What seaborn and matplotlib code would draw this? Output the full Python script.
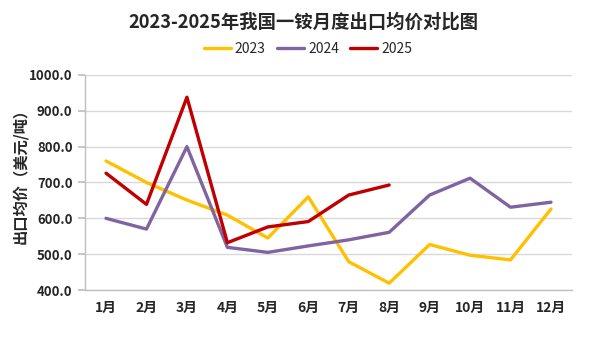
import matplotlib
matplotlib.use("Agg")
import matplotlib.pyplot as plt
import seaborn as sns
import pandas as pd
import numpy as np
from matplotlib.lines import Line2D

months = ["1月", "2月", "3月", "4月", "5月", "6月", "7月", "8月", "9月", "10月", "11月", "12月"]
v2023 = [760, 700, 651, 609, 545, 660, 479, 419, 527, 497, 484, 626]
v2024 = [600, 570, 800, 519, 505, 523, 540, 561, 665, 712, 631, 645]
v2025 = [726, 639, 938, 532, 576, 591, 665, 693]
years = ["2023", "2024", "2025"]
colors = ["#FFC000", "#8064A2", "#C00000"]

rows = []
for y, vals in zip(years, [v2023, v2024, v2025]):
    for i, v in enumerate(vals):
        rows.append({"idx": i, "month": months[i], "year": y, "value": v})
df = pd.DataFrame(rows)

sns.set_theme(style="white")
plt.rcParams['font.family'] = ['Noto Sans CJK SC', 'DejaVu Sans']

fig = plt.figure(figsize=(6.05, 3.39), dpi=100)
ax = fig.add_axes([85/605, 1-290/339, (572-85)/605, (290-75)/339])

sns.lineplot(data=df, x="idx", y="value", hue="year", palette=colors,
             linewidth=2.4, ax=ax, legend=False, sort=False)

ax.set_xlim(-0.52, 11.52)
ax.set_ylim(400, 1000)
ax.set_yticks(np.arange(400, 1001, 100))
ax.set_yticklabels([f"{t:.1f}" for t in np.arange(400, 1001, 100)], fontsize=9.5, fontweight='bold')
ax.set_xticks(range(12))
ax.set_xticklabels(months, fontsize=10, fontweight='bold')
ax.set_xlabel("")
ax.set_ylabel("")
ax.yaxis.grid(True, color="#D9D9D9", linewidth=1)
ax.xaxis.grid(False)
for s in ["top", "right"]:
    ax.spines[s].set_visible(False)
for s in ["left", "bottom"]:
    ax.spines[s].set_color("#BFBFBF")
    ax.spines[s].set_linewidth(1)
ax.tick_params(axis='y', length=5, color="#BFBFBF", pad=4, left=True)
ax.tick_params(axis='x', length=0, pad=8)

fig.text(20/605, 1-172/339, "出口均价（美元/吨）", rotation=90, ha='center', va='center',
         fontsize=11, fontweight='bold')

fig.text(303/605, 1-22/339, "2023-2025年我国一铵月度出口均价对比图", ha='center', va='center',
         fontsize=13.2, fontweight='bold')

handles = [Line2D([0], [0], color=c, lw=2.4) for c in colors]
fig.legend(handles, years, loc='center', bbox_to_anchor=(308/605, 1-49/339), ncol=3,
           frameon=False, fontsize=10, handlelength=1.95, columnspacing=0.8, handletextpad=0.3,
           borderpad=0, borderaxespad=0)

fig.savefig("out.png", dpi=100, facecolor="white")
